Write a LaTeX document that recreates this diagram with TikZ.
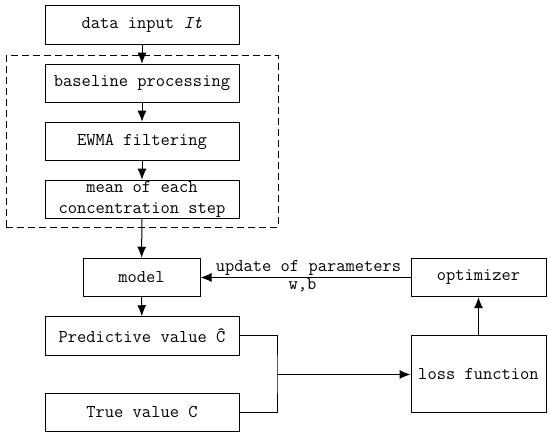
\documentclass[tikz,border=0pt]{standalone}
\usepackage{fontspec}
\usetikzlibrary{arrows.meta, positioning, calc, fit}

\begin{document}
\begin{tikzpicture}[x=1pt, y=-1pt, line width=1pt,
    font=\ttfamily\fontsize{18}{21}\selectfont,
    box/.style={draw, inner sep=0pt, minimum height=38.5pt, align=center},
    arr/.style={-{Latex[length=11pt, width=9pt]}}]
\useasboundingbox (0,0) rectangle (550,438);

% ================= PREPROCESSING =================
\node[box, minimum width=194pt] (input) at (142,25) {data input \textit{It}};
\node[box, minimum width=194pt] (baseline) at (142,83.5) {baseline processing};
\node[box, minimum width=194pt] (ewma) at (142,141.5) {EWMA filtering};
\node[box, minimum width=194pt] (meanstep) at (142,199.5) {mean of each\\concentration step};
\node[draw, dash pattern=on 7pt off 4pt, inner xsep=38.5pt, inner ysep=8pt,
      fit=(baseline)(meanstep)] (prep) {};

\draw[arr] (input) -- (baseline);
\draw[arr] (baseline) -- (ewma);
\draw[arr] (ewma) -- (meanstep);

% ================= TRAINING =================
\node[box, minimum width=117pt] (model) at (141.5,277.5) {model};
\node[box, minimum width=194pt] (pred) at (142,336) {Predictive value Ĉ};
\node[box, minimum width=194pt] (truev) at (142,412.5) {True value C};
\node[box, minimum width=135pt] (optim) at (478.5,277.5) {optimizer};
\node[box, minimum width=135pt, minimum height=77pt] (loss) at (478.5,374.5) {loss function};

\draw[arr] (meanstep) -- (model);
\draw[arr] (model) -- (pred);

% both values go into the loss
\coordinate (join) at (277,374.5);
\draw (pred.east) -| (join) |- (truev.east);
\draw[arr] (join) -- (loss.west);
\draw[arr] (loss) -- (optim);

% feedback to the model
\draw[arr] (optim.west) -- node[above, inner sep=2pt, xshift=3pt] (upd) {update of parameters}
    node[below, inner sep=1pt, xshift=-3pt] (wb) {w,b} (model.east);

\end{tikzpicture}
\end{document}
